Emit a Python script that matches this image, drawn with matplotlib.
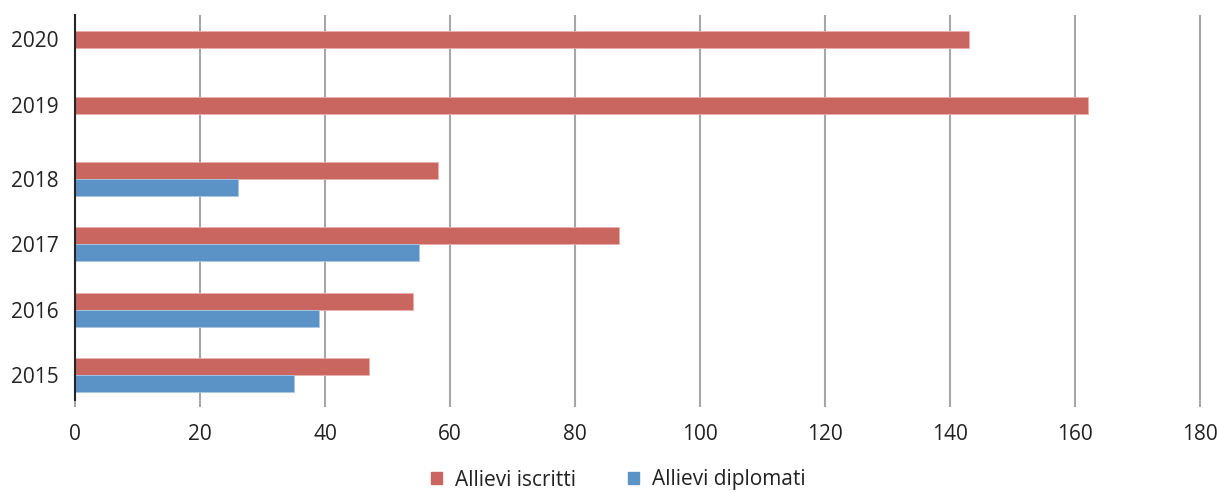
import matplotlib.pyplot as plt
from matplotlib.patches import Patch
import numpy as np

# Data
anni = ['2015', '2016', '2017', '2018', '2019', '2020']
iscritti = [47, 54, 87, 58, 162, 143]
diplomati = [35, 39, 55, 26, np.nan, np.nan]

# row positions (the 2019/2020 rows sit a bit apart in the original)
ypos = np.array([0, 1, 2, 3, 4.12, 5.13])

red = '#C96660'
blue = '#5B93C7'
plt.rcParams['font.family'] = ['Open Sans', 'DejaVu Sans']

fig = plt.figure(figsize=(12.17, 4.93), dpi=100)
ax = fig.add_axes([75/1217, 1 - 400/493, (1202-75)/1217, (400-15)/493])

h = 0.26
dip = np.array(diplomati, dtype=float)
has_dip = ~np.isnan(dip)
off_red = np.where(has_dip, h/2, 0)
ax.barh(ypos + off_red, iscritti, height=h, color=red, edgecolor='#E8B0AC', linewidth=0.6, zorder=3)
ax.barh(ypos[has_dip] - h/2, dip[has_dip], height=h, color=blue, edgecolor='#A9C6E4', linewidth=0.6, zorder=3)

ax.set_xlim(0, 180.3)
ax.set_ylim(-0.38, 5.5)
ax.set_xticks(range(0, 181, 20))
ax.set_yticks(ypos)
ax.set_yticklabels(anni)

ax.grid(axis='x', color='#A6A6A6', linewidth=1.5, zorder=0)
for s in ['top', 'right', 'bottom']:
    ax.spines[s].set_visible(False)
ax.spines['left'].set_color('#262626')
ax.spines['left'].set_linewidth(1.5)
ax.spines['left'].set_zorder(4)

ax.tick_params(axis='x', length=5, width=1.5, color='#A6A6A6', labelsize=15, labelcolor='#222222', pad=12)
ax.tick_params(axis='y', length=0, labelsize=15, labelcolor='#222222', pad=12)
ax.xaxis.get_major_ticks()[0].tick1line.set_color('#262626')

handles = [Patch(color=red, label='Allievi iscritti'), Patch(color=blue, label='Allievi diplomati')]
fig.legend(handles=handles, loc='center', bbox_to_anchor=(618/1217, 1 - 480/493), ncol=2,
           frameon=False, fontsize=15, handlelength=0.55, handleheight=0.55,
           handletextpad=0.6, columnspacing=2.5, labelcolor='#222222',
           borderpad=0.1)

fig.savefig('out.png', dpi=100)
